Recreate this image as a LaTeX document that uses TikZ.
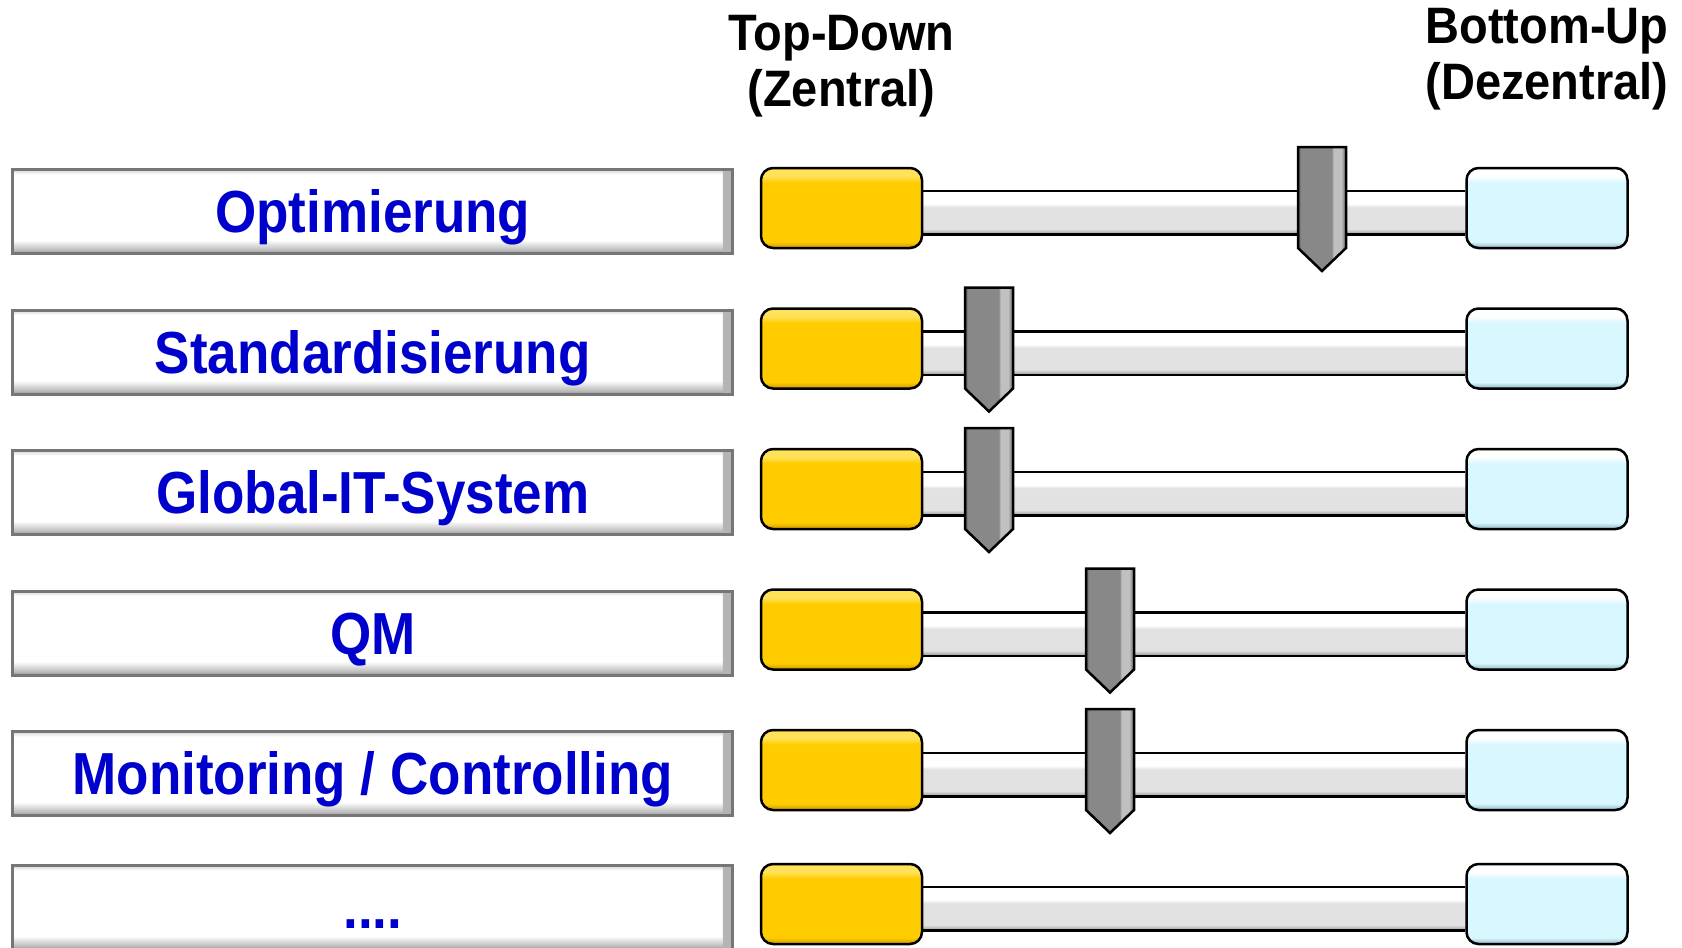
\documentclass[tikz,border=0pt]{standalone}
\usepackage{fontspec}
\setmainfont{Liberation Sans}
\usepackage{tikz}
\usetikzlibrary{
    positioning,
    backgrounds
}
\definecolor{labelBlue}{RGB}{0, 0, 204}
\definecolor{labelEdge}{RGB}{118, 118, 118}
\definecolor{tdMain}{RGB}{255, 204, 0}
\definecolor{tdLight}{RGB}{255, 226, 90}
\definecolor{tdDark}{RGB}{204, 150, 0}
\definecolor{buMain}{RGB}{217, 247, 255}
\definecolor{buDark}{RGB}{140, 180, 195}
\definecolor{barMid}{RGB}{226, 226, 226}
\definecolor{barDark}{RGB}{150, 150, 150}
\definecolor{knobMain}{RGB}{136, 136, 136}
\definecolor{knobDark}{RGB}{90, 90, 90}
\definecolor{knobLight}{RGB}{192, 192, 192}

\pgfdeclareverticalshading{labShade}{100bp}{color(0bp)=(labelEdge); color(25bp)=(labelEdge!80); color(27bp)=(labelEdge!50); color(33bp)=(white); color(72bp)=(white); color(75bp)=(labelEdge!30); color(100bp)=(labelEdge!30)}
\pgfdeclareverticalshading{tdShade}{100bp}{color(0bp)=(tdDark); color(25bp)=(tdDark); color(29bp)=(tdMain); color(66bp)=(tdMain); color(70bp)=(tdLight); color(74bp)=(tdLight); color(75bp)=(tdMain); color(100bp)=(tdMain)}
\pgfdeclareverticalshading{buShade}{100bp}{color(0bp)=(buDark); color(25bp)=(buDark); color(29bp)=(buMain); color(66bp)=(buMain); color(70bp)=(white); color(74bp)=(white); color(75bp)=(buMain); color(100bp)=(buMain)}
\pgfdeclareverticalshading{barShade}{100bp}{color(0bp)=(barDark); color(25bp)=(barDark); color(31bp)=(barMid); color(56bp)=(barMid); color(60bp)=(white); color(75bp)=(white); color(100bp)=(white)}
\pgfdeclarehorizontalshading{knobShade}{100bp}{color(0bp)=(knobDark); color(25bp)=(knobDark); color(28bp)=(knobMain); color(60bp)=(knobMain); color(62bp)=(knobLight); color(70bp)=(knobLight); color(73bp)=(knobMain); color(75bp)=(knobDark); color(100bp)=(knobDark)}

\newcommand{\hochtext}[2][1.12]{\scalebox{1}[#1]{#2}}

\tikzset{
    labbox/.style={draw=labelEdge, line width=1.5pt, shading=labShade,
        minimum width=360pt, minimum height=42pt, inner sep=0pt,
        text=labelBlue, text height=21.25pt, text depth=0pt,
        font=\fontsize{26.5}{30}\selectfont\bfseries,
        path picture={\shade[left color=white, right color=labelEdge!55]
            ([xshift=-5pt]path picture bounding box.north east) rectangle (path picture bounding box.south east);}},
    tdbox/.style={draw=black, line width=1.25pt, rounded corners=6pt,
        minimum width=80.5pt, minimum height=40pt, inner sep=0pt, shading=tdShade},
    bubox/.style={tdbox, shading=buShade},
    barline/.style={line width=1.25pt, black},
    knob/.style={draw=black, line width=1.25pt, shading=knobShade, line join=miter},
    head/.style={align=center, inner sep=0pt, font=\fontsize{23.5}{27.8}\selectfont\bfseries}
}

\begin{document}
\begin{tikzpicture}[x=0.5pt, y=-0.5pt]
    \useasboundingbox (0, 0) rectangle (1682, 948);

    % one row: label, the two end caps and the bar between them
    \foreach \i/\yy/\lab in {1/208/Optimierung, 2/348.5/Standardisierung, 3/489/Global-IT-System,
                             4/629.5/QM, 5/770/{Monitoring / Controlling}, 6/904/{....}}{
        \node[tdbox] (td\i) at (841.5, \yy) {};
        \node[bubox, right=271pt of td\i] (bu\i) {};
        \node[labbox, left=12.75pt of td\i, yshift=-1.75pt] (lab\i) {\hochtext{\lab}};
        \begin{scope}[on background layer]
            \shade[shading=barShade] ([yshift=-12pt]td\i.north east) rectangle ([yshift=7.5pt]bu\i.south west);
            \draw[barline] ([yshift=-12pt]td\i.north east) -- ([yshift=-12pt]bu\i.north west);
            \draw[barline] ([yshift=7.5pt]td\i.south east) -- ([yshift=7.5pt]bu\i.south west);
        \end{scope}
    }

    % slider knobs
    \foreach \i/\kx in {1/1322, 2/989, 3/989, 4/1110, 5/1110}{
        \coordinate (knob\i) at (\kx,0 |- td\i);
        \draw[knob] (knob\i) ++(-24, -61) -- ++(48, 0) -- ++(0, 101) -- ++(-24, 23) -- ++(-24, -23) -- cycle;
    }

    \node[head, above=24.6pt of td1] (topdown) {\hochtext[1.09]{Top-Down}\\\hochtext[1.09]{(Zentral)}};
    \node[head, above=28.3pt of bu1] (bottomup) {\hochtext[1.09]{Bottom-Up}\\\hochtext[1.09]{(Dezentral)}};
\end{tikzpicture}
\end{document}
